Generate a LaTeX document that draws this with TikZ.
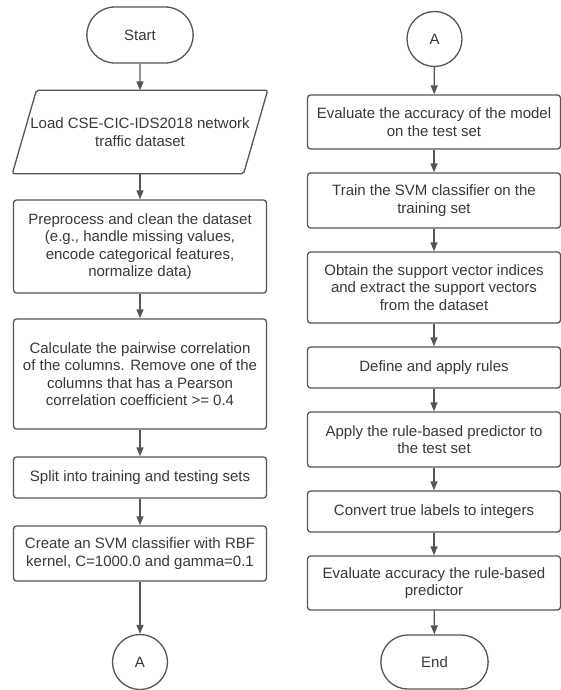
\documentclass[tikz,border=0pt]{standalone}
\usepackage{fontspec}
\setmainfont{Liberation Sans}
\usetikzlibrary{arrows.meta,shapes.misc}
\definecolor{linegray}{HTML}{555555}
\definecolor{textgray}{HTML}{383838}
\begin{document}
\begin{tikzpicture}[x=1pt, y=-1pt,
  every node/.style={draw=linegray, line width=1.3pt, text=textgray, align=center,
    font=\fontsize{15}{17.5}\selectfont},
  procbox/.style={rounded corners=3pt, minimum width=253pt, inner sep=0pt},
  termbox/.style={rounded rectangle, minimum width=113pt, minimum height=56pt},
  joinpt/.style={circle, minimum size=55pt, inner sep=0pt},
  flow/.style={draw=linegray, line width=1.3pt, -{Triangle[width=7pt, length=9pt]}}]
  \useasboundingbox (0,0) rectangle (561,690);

  % left column
  \node[termbox] (start) at (140,35) {Start};
  \node[draw=none, minimum width=230pt, minimum height=82pt] (load) at (140,132)
    {Load CSE-CIC-IDS2018 network\\traffic dataset};
  \draw[linegray, line width=1.3pt, rounded corners=2pt]
    ([xshift=12pt]load.north west) -- ([xshift=12pt]load.north east)
    -- ([xshift=-12pt]load.south east) -- ([xshift=-12pt]load.south west) -- cycle;
  \node[procbox, minimum height=93pt] (pre) at (140,246.5)
    {Preprocess and clean the dataset\\(e.g., handle missing values,\\encode categorical features,\\normalize data)};
  \node[procbox, minimum height=110pt] (corr) at (140,374)
    {Calculate the pairwise correlation\\of the columns. Remove one of the\\columns that has a Pearson\\correlation coefficient >= 0.4};
  \node[procbox, minimum height=41pt] (split) at (140,477.5) {Split into training and testing sets};
  \node[procbox, minimum height=55pt] (svm) at (140,553.5)
    {Create an SVM classifier with RBF\\kernel, C=1000.0 and gamma=0.1};
  \node[joinpt] (conA) at (140,662) {A};

  % right column
  \node[joinpt] (conB) at (434.5,39) {A};
  \node[procbox, minimum height=54pt] (evalm) at (434,122)
    {Evaluate the accuracy of the model\\on the test set};
  \node[procbox, minimum height=55pt] (train) at (434,200.5)
    {Train the SVM classifier on the\\training set};
  \node[procbox, minimum height=71pt] (sv) at (434,287.5)
    {Obtain the support vector indices\\and extract the support vectors\\from the dataset};
  \node[procbox, minimum height=41pt] (rules) at (434,367.5) {Define and apply rules};
  \node[procbox, minimum height=55pt] (apply) at (434,439.5)
    {Apply the rule-based predictor to\\the test set};
  \node[procbox, minimum height=41pt] (conv) at (434,511.5) {Convert true labels to integers};
  \node[procbox, minimum height=54pt] (evalr) at (434,583)
    {Evaluate accuracy the rule-based\\predictor};
  \node[termbox, minimum width=114pt, minimum height=54pt] (stop) at (434.5,662) {End};

  \foreach \a/\b in {start/load, load/pre, pre/corr, corr/split, split/svm, svm/conA,
      conB/evalm, evalm/train, train/sv, sv/rules, rules/apply, apply/conv, conv/evalr, evalr/stop}
    \draw[flow] (\a) -- (\b);
\end{tikzpicture}
\end{document}
